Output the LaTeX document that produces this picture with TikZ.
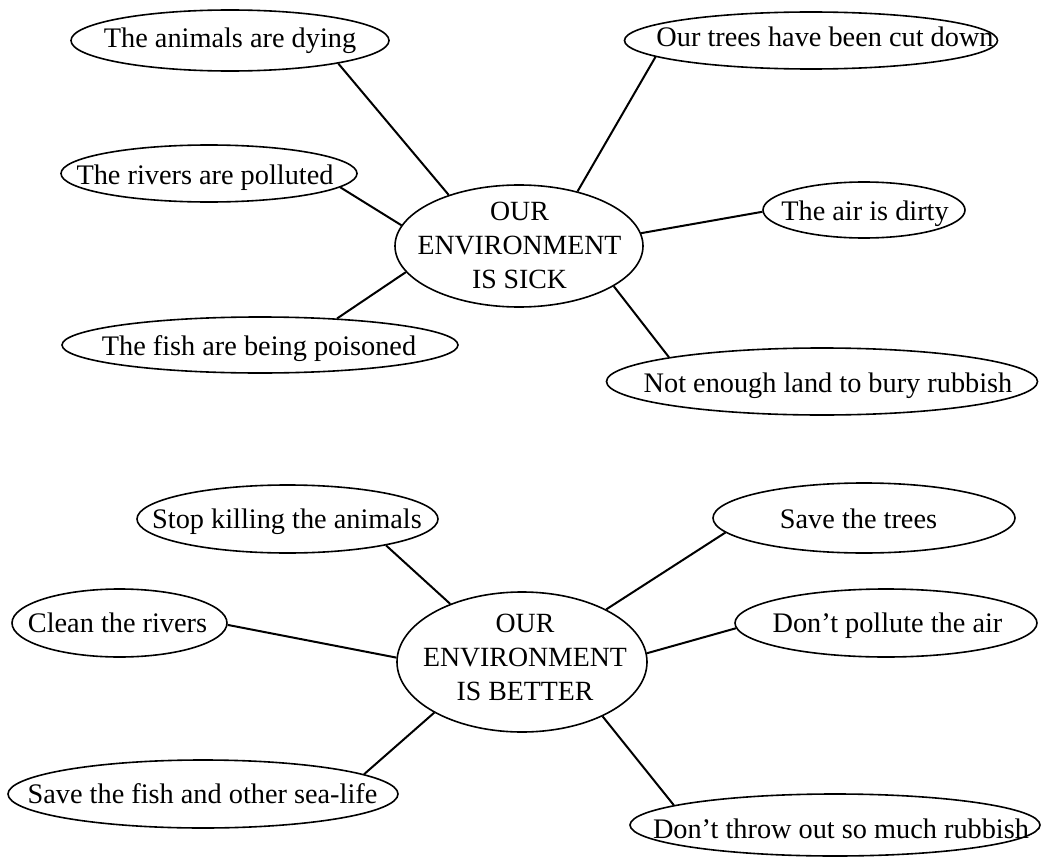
\documentclass[tikz,border=0pt]{standalone}
\usepackage{fontspec}
\setmainfont{Liberation Serif}
\usetikzlibrary{shapes.geometric}
\begin{document}
\begin{tikzpicture}[x=1pt,y=-1pt,
  oval/.style={draw, ellipse, inner sep=0pt, line width=1.6pt},
  lbl/.style={anchor=base, inner sep=0pt, font=\fontsize{28.3}{34}\selectfont},
  hub/.style={anchor=center, inner sep=0pt, align=center, font=\fontsize{27.8}{34}\selectfont},
  link/.style={line width=2pt}]
\path[use as bounding box] (0,0) rectangle (1042,859);

% ---------- upper map ----------
\node[oval, minimum width=318, minimum height=61] (e1) at (230,40.5) {};
\node[oval, minimum width=296, minimum height=57] (e2) at (209,173.5) {};
\node[oval, minimum width=396, minimum height=56] (e3) at (260,345) {};
\node[oval, minimum width=373, minimum height=57] (e4) at (811,40.5) {};
\node[oval, minimum width=202, minimum height=56] (e5) at (864,210) {};
\node[oval, minimum width=431, minimum height=67] (e6) at (822,381.5) {};
\node[oval, minimum width=248, minimum height=122] (s) at (519,246) {};

\node[lbl] (t1) at (230,48) {The animals are dying};
\node[lbl] (t2) at (205,184) {The rivers are polluted};
\node[lbl] (t3) at (259,355) {The fish are being poisoned};
\node[lbl] (t4) at (825,47) {Our trees have been cut down};
\node[lbl] (t5) at (865,220) {The air is dirty};
\node[lbl] (t6) at (828,392) {Not enough land to bury rubbish};
\node[hub] (ts) at (519.5,245.6) {OUR\\ENVIRONMENT\\IS SICK};

\draw[link] (e1.-12.6) -- (s.144.2);
\draw[link] (e2.-6.2) -- (s.170.2);
\draw[link] (e3.19.1) -- (s.193.8);
\draw[link] (e4.186.5) -- (s.43.5);
\draw[link] (e5.181) -- (s.6.5);
\draw[link] (e6.171.6) -- (s.-23.1);

% ---------- lower map ----------
\node[oval, minimum width=301, minimum height=68] (f1) at (287.5,519) {};
\node[oval, minimum width=215, minimum height=68] (f2) at (119.5,623) {};
\node[oval, minimum width=390, minimum height=68] (f3) at (203,794) {};
\node[oval, minimum width=302, minimum height=70] (f4) at (864,518) {};
\node[oval, minimum width=302, minimum height=68] (f5) at (886,623) {};
\node[oval, minimum width=410, minimum height=62] (f6) at (835,825) {};
\node[oval, minimum width=250, minimum height=140] (b) at (522,662) {};

\node[lbl] (u1) at (287,528) {Stop killing the animals};
\node[lbl] (u2) at (117.5,632) {Clean the rivers};
\node[lbl] (u3) at (202.5,803) {Save the fish and other sea-life};
\node[lbl] (u4) at (858.5,528) {Save the trees};
\node[lbl] (u5) at (887.5,632) {Don’t pollute the air};
\node[lbl] (u6) at (841,838) {Don’t throw out so much rubbish};
\node[hub] (tb) at (525,657.6) {OUR\\ENVIRONMENT\\IS BETTER};

\draw[link] (f1.-15.4) -- (b.141.8);
\draw[link] (f2.-1.6) -- (b.178.6);
\draw[link] (f3.7.4) -- (b.210.4);
\draw[link] (f4.186.3) -- (b.32.4);
\draw[link] (f5.182.7) -- (b.4.1);
\draw[link] (f6.173.4) -- (b.-34.9);
\end{tikzpicture}
\end{document}
